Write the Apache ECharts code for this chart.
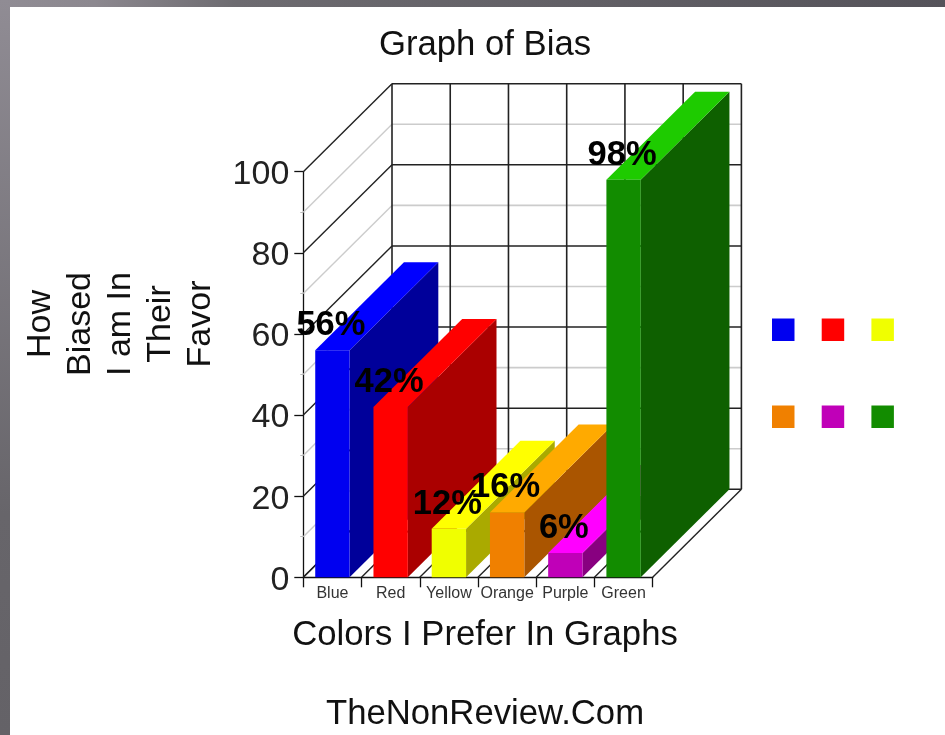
<!DOCTYPE html>
<html>
<head>
<meta charset="utf-8">
<title>Graph of Bias</title>
<style>
html, body { margin: 0; padding: 0; background: #fff; }
#chart { width: 945px; height: 735px; }
</style>
<script src="https://cdn.jsdelivr.net/npm/echarts@6/dist/echarts.min.js"></script>
</head>
<body>
<div id="chart"></div>
<script>
// chart values
var categories = ['Blue', 'Red', 'Yellow', 'Orange', 'Purple', 'Green'];
var biasValues = [56, 42, 12, 16, 6, 98];
var wallTicks = [0, 10, 20, 30, 40, 50, 60, 70, 80, 90, 100];

// face colours per bar
var frontColors = ['#0000f0', '#ff0000', '#f0ff00', '#f08000', '#c000b8', '#128c00'];
var topColors = ['#0000ff', '#ff0000', '#ffff00', '#ffaa00', '#ff00ff', '#1ecb00'];
var sideColors = ['#00009a', '#aa0000', '#aaaa00', '#aa5500', '#880080', '#0e6000'];

// fake 3d: how far the back wall sits from the front plane
var depthX = 88.7;
var depthY = 88;

var FONT = '"Liberation Sans", Arial, sans-serif';

function poly(points, color) {
    return {type: 'polygon', shape: {points: points}, style: {fill: color}};
}

function line(x1, y1, x2, y2, color, width) {
    return {
        type: 'line',
        shape: {x1: x1, y1: y1, x2: x2, y2: y2},
        style: {stroke: color, lineWidth: width}
    };
}

// side wall, back wall and floor lines
function renderWalls(params, api) {
    if (params.dataIndex !== 0) {
        return;
    }
    var kids = [];
    var band = api.size([1, 0])[0];
    var left = api.coord([0, 0])[0] - band / 2;
    var right = left + band * categories.length;
    // grey lines first so the dark ones stay on top
    wallTicks.slice().sort(function (a, b) { return (a % 20 === 0) - (b % 20 === 0); }).forEach(function (v) {
        var y = api.coord([0, v])[1];
        var major = v % 20 === 0;
        var color = major ? '#222' : '#ccc';
        kids.push(line(left, y, left + depthX, y - depthY, color, 1.4));
        kids.push(line(left + depthX, y - depthY, right + depthX, y - depthY, color, 1.6));
    });
    var y0 = api.coord([0, 0])[1];
    var y100 = api.coord([0, 100])[1];
    for (var i = 0; i <= categories.length; i++) {
        var x = left + band * i;
        kids.push(line(x, y0, x + depthX, y0 - depthY, '#222', 1.4));
        kids.push(line(x + depthX, y0 - depthY, x + depthX, y100 - depthY, '#222', 1.6));
    }
    return {type: 'group', children: kids};
}

// one extruded bar: side, top, then front face
function renderBar(params, api) {
    var idx = api.value(0);
    var top = api.coord([idx, api.value(1)]);
    var base = api.coord([idx, 0]);
    var w = api.size([1, 0])[0] * 0.59;
    var x0 = top[0] - w / 2;
    var x1 = top[0] + w / 2;
    return {
        type: 'group',
        children: [
            poly([[x1, top[1]], [x1 + depthX, top[1] - depthY], [x1 + depthX, base[1] - depthY], [x1, base[1]]], sideColors[idx]),
            poly([[x0, top[1]], [x0 + depthX, top[1] - depthY], [x1 + depthX, top[1] - depthY], [x1, top[1]]], topColors[idx]),
            poly([[x0, top[1]], [x1, top[1]], [x1, base[1]], [x0, base[1]]], frontColors[idx])
        ]
    };
}

function renderValueLabel(params, api) {
    var p = api.coord([api.value(0), api.value(1)]);
    return {
        type: 'text',
        x: p[0] - 1.5,
        y: p[1] - 24.5,
        style: {
            text: api.value(1) + '%',
            align: 'center',
            verticalAlign: 'middle',
            fill: '#000',
            font: 'bold 34.5px ' + FONT
        }
    };
}

var series = [{
    name: 'walls',
    type: 'custom',
    silent: true,
    renderItem: renderWalls,
    data: wallTicks.map(function (v) { return [0, v]; }),
    z: 1
}];

categories.forEach(function (name, i) {
    series.push({
        name: name,
        type: 'custom',
        renderItem: renderBar,
        itemStyle: {color: frontColors[i]},
        encode: {x: 0, y: 1},
        data: [[i, biasValues[i]]],
        z: 2
    });
});

series.push({
    name: 'labels',
    type: 'custom',
    silent: true,
    renderItem: renderValueLabel,
    encode: {x: 0, y: 1},
    data: biasValues.map(function (v, i) { return [i, v]; }),
    z: 3
});

function legendRow(names, top) {
    return {
        data: names,
        left: 772,
        top: top,
        orient: 'horizontal',
        icon: 'rect',
        itemWidth: 22.5,
        itemHeight: 22.5,
        itemGap: 27.2,
        padding: 0,
        selectedMode: false,
        formatter: function () { return ''; }
    };
}

function bigText(text, top) {
    return {
        text: text,
        left: 485,
        top: top,
        padding: 0,
        textAlign: 'center',
        textVerticalAlign: 'middle',
        textStyle: {fontFamily: FONT, fontSize: 34.7, fontWeight: 'normal', color: '#111'}
    };
}

var option = {
    animation: false,
    backgroundColor: '#fff',
    title: [
        bigText('Graph of Bias', 45),
        bigText('Colors I Prefer In Graphs', 635),
        bigText('TheNonReview.Com', 714)
    ],
    legend: [
        legendRow(categories.slice(0, 3), 318.5),
        legendRow(categories.slice(3), 405.5)
    ],
    grid: {left: 303.3, right: 292.3, top: 171.7, bottom: 157.7, containLabel: false},
    xAxis: {
        type: 'category',
        data: categories,
        axisLine: {lineStyle: {color: '#111', width: 1.3}},
        axisTick: {show: true, length: 10, alignWithLabel: false, lineStyle: {color: '#111', width: 1.3}},
        axisLabel: {fontFamily: FONT, fontSize: 16, color: '#333', margin: 8, interval: 0}
    },
    yAxis: {
        type: 'value',
        min: 0,
        max: 100,
        interval: 20,
        axisLine: {show: true, lineStyle: {color: '#111', width: 1.3}},
        axisTick: {show: true, length: 9, lineStyle: {color: '#111', width: 1.3}},
        minorTick: {show: true, splitNumber: 2, length: 3, lineStyle: {color: '#bbb', width: 1}},
        axisLabel: {
            margin: 14,
            formatter: '{n|{value}}',
            rich: {n: {fontFamily: FONT, fontSize: 34, color: '#222', padding: [6, 0, 0, 0]}}
        },
        splitLine: {show: false}
    },
    graphic: [
        // grey slide frame round the picture
        {type: 'rect', shape: {x: 0, y: 0, width: 945, height: 7}, style: {
            fill: new echarts.graphic.LinearGradient(0, 0, 1, 0, [
                {offset: 0, color: '#908c94'}, {offset: 0.1, color: '#8c888f'},
                {offset: 0.25, color: '#6d6b70'}, {offset: 1, color: '#55535a'}
            ])}, z: 10},
        {type: 'rect', shape: {x: 0, y: 0, width: 10, height: 735}, style: {
            fill: new echarts.graphic.LinearGradient(0, 0, 0, 1, [
                {offset: 0, color: '#908c94'}, {offset: 0.7, color: '#67656a'}, {offset: 1, color: '#646267'}
            ])}, z: 10},
        // y axis title sits above the axis middle in the original
        {type: 'text', x: 121, y: 324, rotation: Math.PI / 2, z: 10, style: {
            text: 'How\nBiased\nI am In\nTheir\nFavor',
            align: 'center',
            verticalAlign: 'middle',
            lineHeight: 40,
            fill: '#111',
            font: '34px ' + FONT
        }}
    ],
    series: series
};

echarts.init(document.getElementById('chart')).setOption(option);
</script>
</body>
</html>
